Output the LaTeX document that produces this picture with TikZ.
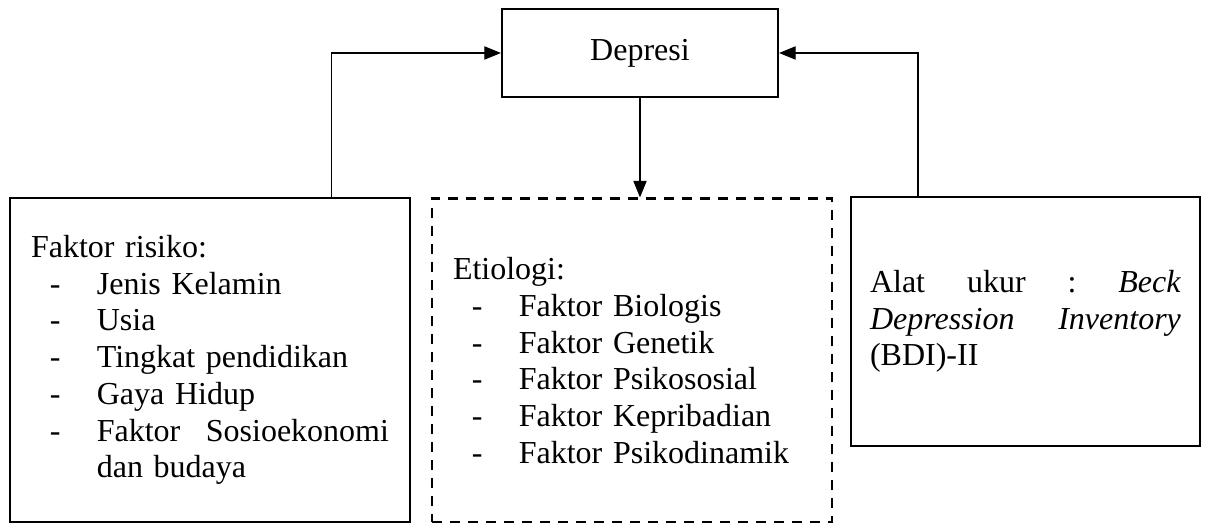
\documentclass[tikz,border=0pt]{standalone}
\usepackage{fontspec}
\setmainfont{Liberation Serif}
\usetikzlibrary{arrows.meta}
\newcommand{\listline}[1]{\hspace*{7.1pt}\makebox[17.6pt][l]{-}#1}
\tikzset{
  framenode/.style = {shape=rectangle, draw, line width=0.85pt,
          inner sep=0pt, font=\fontsize{12pt}{13.76pt}\selectfont},
  root/.style      = {framenode, minimum width=103.5pt, minimum height=33pt},
  listnode/.style  = {framenode, align=left, text width=134.25pt,
          inner xsep=7.875pt, minimum height=121.5pt},
  etio/.style      = {listnode, dash pattern=on 3.75pt off 3pt},
  tool/.style      = {framenode, align=left, text width=116.6pt,
          inner xsep=7.1pt, minimum height=93.4pt},
  link/.style      = {draw, line width=0.4pt, -{Triangle[length=6.2pt,width=5pt]}}
}
\begin{document}
\begin{tikzpicture}
  [
    x = 0.375pt,
    y = -0.375pt
  ]
  \useasboundingbox (0,0) rectangle (1208,523);
  \node [root] (depresi) at (640,53) {Depresi};
  \node [listnode] (risiko) at (210,360) {Faktor risiko:\\
    \listline{Jenis Kelamin}\\
    \listline{Usia}\\
    \listline{Tingkat pendidikan}\\
    \listline{Gaya Hidup}\\
    \listline{Faktor\hfill Sosioekonomi}\\
    \hspace*{24.7pt}dan budaya};
  \node [etio] (etiologi) at (632,360.5) {Etiologi:\\
    \listline{Faktor Biologis}\\
    \listline{Faktor Genetik}\\
    \listline{Faktor Psikososial}\\
    \listline{Faktor Kepribadian}\\
    \listline{Faktor Psikodinamik}};
  \node [tool] (alat) at (1025.5,321.5) {Alat\hfill ukur\hfill :\hfill \textit{Beck}\\
    \textit{Depression}\hfill\textit{Inventory}\\
    (BDI)-II};
  \draw [link] ([xshift=-30pt]risiko.north east) |- (depresi.west);
  \draw [link] ([xshift=25.5pt]alat.north west) |- (depresi.east);
  \draw [link] (depresi.south) -- (depresi.south |- etiologi.north);
\end{tikzpicture}
\end{document}
